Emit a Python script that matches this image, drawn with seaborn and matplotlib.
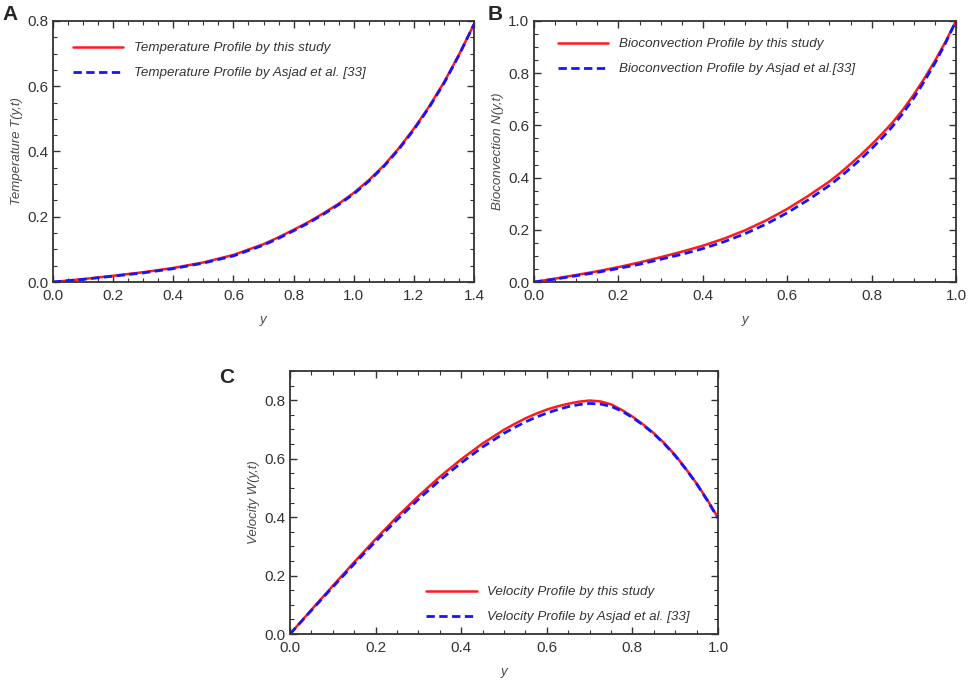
import numpy as np
import pandas as pd
import matplotlib
matplotlib.use("Agg")
import matplotlib.pyplot as plt
from matplotlib.ticker import MultipleLocator, AutoMinorLocator
import seaborn as sns

# panel A - temperature
temp_y = [0.0, 0.1, 0.2, 0.3, 0.4, 0.5, 0.6, 0.7, 0.75, 0.8, 0.85, 0.9, 0.95,
          1.0, 1.05, 1.1, 1.15, 1.2, 1.25, 1.3, 1.35, 1.4]
temp_this = [0.0, 0.009, 0.019, 0.030, 0.043, 0.060, 0.083, 0.116, 0.137, 0.160, 0.184,
             0.211, 0.240, 0.273, 0.312, 0.357, 0.410, 0.470, 0.537, 0.612, 0.697, 0.790]
temp_asjad = [0.0, 0.008, 0.018, 0.028, 0.041, 0.058, 0.080, 0.113, 0.134, 0.157, 0.181,
              0.208, 0.237, 0.270, 0.309, 0.354, 0.407, 0.467, 0.534, 0.609, 0.695, 0.790]

# panel B - bioconvection
bio_y = [0.0, 0.05, 0.1, 0.15, 0.2, 0.25, 0.3, 0.35, 0.4, 0.45, 0.5, 0.55, 0.6, 0.65,
         0.7, 0.725, 0.75, 0.775, 0.8, 0.825, 0.85, 0.875, 0.9, 0.925, 0.95, 0.975, 1.0]
bio_this = [0.0, 0.013, 0.027, 0.041, 0.057, 0.075, 0.095, 0.116, 0.139, 0.166, 0.198,
            0.236, 0.280, 0.330, 0.385, 0.417, 0.452, 0.488, 0.527, 0.568, 0.612, 0.662,
            0.718, 0.780, 0.847, 0.920, 1.0]
bio_asjad = [0.0, 0.011, 0.024, 0.037, 0.052, 0.068, 0.087, 0.106, 0.128, 0.154, 0.185,
             0.222, 0.265, 0.315, 0.370, 0.402, 0.436, 0.472, 0.511, 0.552, 0.597, 0.648,
             0.705, 0.769, 0.838, 0.915, 1.0]

# panel C - velocity
vel_y = [0.0, 0.05, 0.1, 0.15, 0.2, 0.25, 0.3, 0.35, 0.4, 0.45, 0.5, 0.525, 0.55,
         0.575, 0.6, 0.625, 0.65, 0.675, 0.7, 0.725, 0.75, 0.775, 0.8, 0.825, 0.85,
         0.875, 0.9, 0.925, 0.95, 0.975, 1.0]
vel_this = [0.0, 0.083, 0.165, 0.246, 0.325, 0.401, 0.472, 0.538, 0.598, 0.652, 0.699,
            0.719, 0.738, 0.754, 0.768, 0.779, 0.788, 0.795, 0.799, 0.796, 0.786, 0.767,
            0.744, 0.717, 0.687, 0.652, 0.612, 0.565, 0.515, 0.459, 0.398]
vel_asjad = [0.0, 0.081, 0.161, 0.240, 0.317, 0.391, 0.461, 0.526, 0.586, 0.640, 0.687,
             0.707, 0.726, 0.742, 0.756, 0.768, 0.778, 0.785, 0.789, 0.787, 0.779, 0.763,
             0.741, 0.715, 0.685, 0.650, 0.610, 0.564, 0.514, 0.457, 0.396]

sns.set_style("white")
plt.rcParams['font.family'] = ['Liberation Sans', 'DejaVu Sans']

TXT = "#333333"
LBL = "#4a4a4a"


def panel(ax, x, y_this, y_ref, name, ylabel, ref_label, xmax, ymax, leg_kw):
    sns.lineplot(x=x, y=y_this, ax=ax, color="#ff1a1a", lw=1.8,
                 label=name + " Profile by this study")
    sns.lineplot(x=x, y=y_ref, ax=ax, color="#1414ff", lw=2.0,
                 linestyle=(0, (3, 1.6)), label=ref_label)
    ax.set_xlim(0, xmax)
    ax.set_ylim(0, ymax)
    ax.xaxis.set_major_locator(MultipleLocator(0.2))
    ax.yaxis.set_major_locator(MultipleLocator(0.2))
    ax.xaxis.set_minor_locator(AutoMinorLocator(4))
    ax.yaxis.set_minor_locator(AutoMinorLocator(4))
    ax.tick_params(which="both", direction="in", top=True, right=True,
                   bottom=True, left=True, colors="#333333", labelcolor=TXT,
                   labelsize=11)
    ax.tick_params(axis="x", which="major", pad=5)
    ax.tick_params(which="major", length=5, width=1.0)
    ax.tick_params(which="minor", length=3, width=0.8)
    for s in ax.spines.values():
        s.set_color("#333333")
        s.set_linewidth(1.3)
    ax.set_xlabel("y", style="italic", fontsize=9.5, color=LBL, labelpad=8)
    ax.set_ylabel(ylabel, style="italic", fontsize=9.5, color=LBL, labelpad=3)
    leg = ax.legend(frameon=False, fontsize=9.6, handlelength=3.8,
                    handletextpad=0.8, labelspacing=0.95, **leg_kw)
    for t in leg.get_texts():
        t.set_style("italic")
        t.set_color(TXT)


fig = plt.figure(figsize=(9.69, 6.83), dpi=100)
axA = fig.add_axes([0.0547, 0.5871, 0.4345, 0.3822])
axB = fig.add_axes([0.5511, 0.5871, 0.4355, 0.3822])
axC = fig.add_axes([0.2993, 0.0717, 0.4417, 0.3851])

panel(axA, temp_y, temp_this, temp_asjad, "Temperature", "Temperature T(y,t)",
      "Temperature Profile by Asjad et al. [33]", 1.4, 0.8,
      dict(loc="upper left", bbox_to_anchor=(0.018, 0.966)))
panel(axB, bio_y, bio_this, bio_asjad, "Bioconvection", "Bioconvection N(y,t)",
      "Bioconvection Profile by Asjad et al.[33]", 1.0, 1.0,
      dict(loc="upper left", bbox_to_anchor=(0.028, 0.981)))
panel(axC, vel_y, vel_this, vel_asjad, "Velocity", "Velocity W(y,t)",
      "Velocity Profile by Asjad et al. [33]", 1.0, 0.9,
      dict(loc="lower left", bbox_to_anchor=(0.29, -0.005)))

fig.text(0.003, 0.993, "A", fontsize=15, fontweight="bold", va="top", ha="left")
fig.text(0.503, 0.993, "B", fontsize=15, fontweight="bold", va="top", ha="left")
fig.text(0.226, 0.461, "C", fontsize=15, fontweight="bold", va="top", ha="left")

fig.savefig("out.png", dpi=100)
